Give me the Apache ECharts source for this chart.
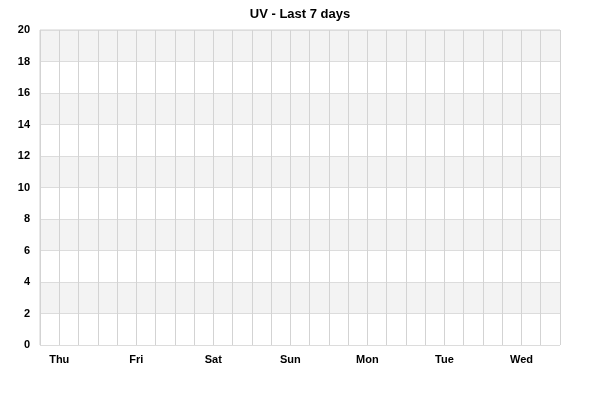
<!DOCTYPE html>
<html>
<head>
<meta charset="utf-8">
<script src="https://cdn.jsdelivr.net/npm/echarts@6/dist/echarts.min.js"></script>
<style>html,body{margin:0;padding:0;background:#fff;}#c{width:600px;height:400px;}</style>
</head>
<body>
<div id="c"></div>
<script>
// 28 time slots (6-hour steps), day labels every 4th slot starting at slot 1
const dayLabels = ['Thu', 'Fri', 'Sat', 'Sun', 'Mon', 'Tue', 'Wed'];
const slotCount = 28;
const categories = [];
for (let i = 0; i < slotCount; i++) {
  categories.push((i - 1) % 4 === 0 ? dayLabels[(i - 1) / 4] : '');
}
// No visible UV readings in the reference
const uvValues = [null, null, null, null, null, null, null, null, null, null, null, null, null, null,
                  null, null, null, null, null, null, null, null, null, null, null, null, null, null];
const yTicks = { min: 0, max: 20, interval: 2 };

const chart = echarts.init(document.getElementById('c'));
const font = 'Liberation Sans, Arial, sans-serif';
chart.setOption({
  animation: false,
  title: {
    text: 'UV - Last 7 days', left: 'center', top: 3,
    textStyle: { fontFamily: font, fontSize: 13, fontWeight: 'bold', color: '#000' }
  },
  grid: { left: 40, right: 40, top: 30, bottom: 55, show: true, borderColor: '#d3d3d3', borderWidth: 1 },
  xAxis: {
    type: 'category', data: categories, boundaryGap: false,
    axisLine: { show: false }, axisTick: { show: false },
    axisLabel: { interval: 0, color: '#000', fontFamily: font, fontSize: 11, fontWeight: 'bold', margin: 9 },
    splitLine: { show: true, interval: 0, lineStyle: { color: '#d3d3d3', width: 1 } }
  },
  yAxis: {
    type: 'value', min: yTicks.min, max: yTicks.max, interval: yTicks.interval,
    axisLine: { show: false }, axisTick: { show: false },
    axisLabel: { color: '#000', fontFamily: font, fontSize: 11, fontWeight: 'bold', margin: 10 },
    splitLine: { show: true, lineStyle: { color: '#dcdcdc', width: 1 } },
    splitArea: { show: true, areaStyle: { color: ['#ffffff', '#f3f3f3'] } }
  },
  series: [{ type: 'line', data: uvValues, showSymbol: false, lineStyle: { color: '#4572a7' } }]
});
</script>
</body>
</html>
